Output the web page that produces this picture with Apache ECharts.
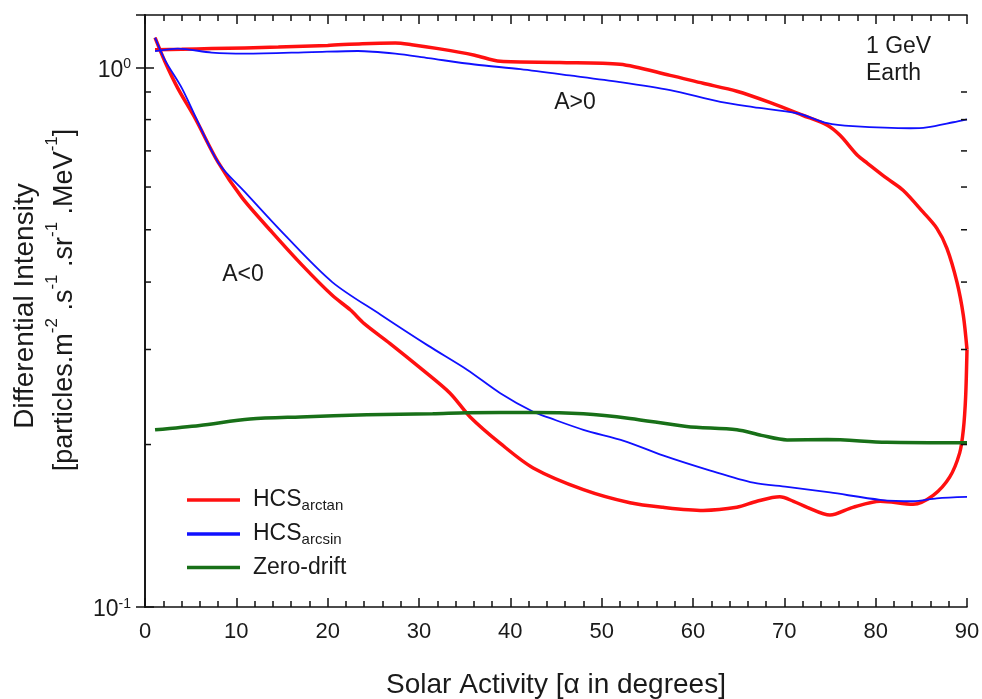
<!DOCTYPE html>
<html>
<head>
<meta charset="utf-8">
<script src="https://cdn.jsdelivr.net/npm/echarts@6/dist/echarts.min.js"></script>
<style>
html,body{margin:0;padding:0;background:#fff;}
#chart{width:982px;height:699px;}
</style>
</head>
<body>
<div id="chart"></div>
<script>
// ---- data (x = alpha in degrees, y = differential intensity) ----
var xTicks = [0, 10, 20, 30, 40, 50, 60, 70, 80, 90];
var yMinorTicks = [0.2, 0.3, 0.4, 0.5, 0.6, 0.7, 0.8, 0.9];

// HCS arctan, A<0 branch
var arctanNeg = [[1.1,1.135],[2.2,1.023],[3.6,0.914],[5.5,0.804],[8.0,0.667],[10.6,0.574],[13.9,0.495],[17.2,0.430],[20.5,0.378],[22.5,0.355],[24.0,0.335],[26.8,0.308],[30.4,0.275],[33.4,0.249],[35.6,0.225],[38.9,0.201],[42.5,0.181],[48.0,0.165],[53.1,0.156],[56.7,0.153],[61.1,0.151],[64.8,0.153],[67.0,0.157],[69.5,0.160],[71.0,0.157],[72.5,0.153],[75.0,0.148],[77.5,0.153],[80.5,0.157],[84.1,0.155],[86.3,0.161],[88.1,0.174],[89.2,0.193],[89.6,0.213],[89.85,0.245],[90.0,0.300]];
// HCS arctan, A>0 branch
var arctanPos = [[1.1,1.078],[4.0,1.080],[7.3,1.083],[14.6,1.090],[20.0,1.098],[23.8,1.106],[27.4,1.109],[29.2,1.101],[32.1,1.083],[36.1,1.053],[38.9,1.026],[45.4,1.021],[52.0,1.013],[57.5,0.966],[61.1,0.934],[64.8,0.903],[68.4,0.861],[72.0,0.815],[74.7,0.781],[76.1,0.748],[78.0,0.687],[79.1,0.664],[81.2,0.623],[83.0,0.592],[85.2,0.539],[86.7,0.503],[87.8,0.462],[88.9,0.400],[89.6,0.347],[90.0,0.300]];
// HCS arcsin, A<0 branch
var arcsinNeg = [[1.1,1.135],[2.2,1.030],[4.05,0.914],[8.0,0.667],[10.95,0.587],[15.3,0.489],[20.5,0.400],[25.8,0.348],[31.0,0.305],[35.3,0.275],[38.9,0.249],[42.5,0.230],[44.3,0.224],[48.0,0.213],[52.5,0.203],[56.7,0.191],[61.9,0.179],[66.6,0.170],[70.3,0.167],[75.0,0.163],[80.5,0.158],[84.1,0.157],[86.7,0.159],[90.0,0.160]];
// HCS arcsin, A>0 branch
var arcsinPos = [[1.1,1.071],[3.6,1.083],[7.3,1.065],[10.95,1.060],[18.3,1.067],[23.3,1.072],[27.4,1.060],[31.0,1.040],[36.1,1.012],[41.1,0.992],[46.5,0.966],[52.0,0.939],[57.5,0.907],[63.0,0.863],[66.6,0.844],[71.4,0.822],[74.7,0.788],[77.5,0.778],[83.8,0.771],[85.6,0.774],[88.5,0.791],[90.0,0.801]];
// Zero-drift
var zeroDrift = [[1.1,0.213],[6.0,0.217],[11.5,0.223],[17.0,0.225],[24.3,0.227],[31.5,0.228],[35.3,0.229],[42.5,0.2294],[48.0,0.228],[53.1,0.2236],[59.3,0.216],[64.8,0.213],[67.5,0.208],[70.3,0.204],[74.7,0.2043],[81.2,0.202],[90.0,0.2016]];

var legendNames = ['HCS_arctan', 'HCS_arcsin', 'Zero-drift'];

var FONT = 'Liberation Sans, Arial, sans-serif';
var TXT = '#1a1a1a';
var RED = '#ff1010', BLUE = '#1010ff', GREEN = '#187018';

var chart = echarts.init(document.getElementById('chart'), null, {renderer: 'canvas'});

var axisLineStyle = {color: '#111', width: 1.6};

function lineSeries(name, data, color, width) {
  return {
    name: name, type: 'line', data: data, showSymbol: false, symbol: 'none',
    smooth: 0.3, lineStyle: {color: color, width: width}, itemStyle: {color: color},
    z: 3
  };
}

var option = {
  backgroundColor: '#ffffff',
  animation: false,
  textStyle: {fontFamily: FONT, color: TXT},
  grid: {left: 145, right: 15, top: 15, bottom: 92, containLabel: false, outerBoundsMode: 'none'},
  xAxis: [{
    type: 'value', min: 0, max: 90, interval: 10,
    axisLine: {show: true, lineStyle: axisLineStyle},
    axisTick: {show: true, inside: true, length: 9, lineStyle: {color: '#111', width: 1.5}},
    minorTick: {show: true, splitNumber: 5, length: 6, lineStyle: {color: '#111', width: 1.5}},
    splitLine: {show: false},
    axisLabel: {fontSize: 22, color: TXT, fontFamily: FONT, margin: 14,
      formatter: function (v) { return xTicks.indexOf(v) >= 0 ? String(v) : ''; }},
    name: 'Solar Activity [\u03b1 in degrees]', nameLocation: 'middle', nameGap: 64,
    nameTextStyle: {fontSize: 28, color: TXT, fontFamily: FONT}
  }, {
    type: 'value', min: 0, max: 90, interval: 10, position: 'top',
    axisLine: {show: true, lineStyle: axisLineStyle},
    axisTick: {show: true, inside: true, length: 9, lineStyle: {color: '#111', width: 1.5}},
    minorTick: {show: true, splitNumber: 5, length: 6, lineStyle: {color: '#111', width: 1.5}},
    splitLine: {show: false}, axisLabel: {show: false}
  }],
  yAxis: [{
    type: 'log', logBase: 10, min: 0.1, max: 1.25,
    axisLine: {show: true, lineStyle: axisLineStyle},
    axisTick: {show: true, inside: true, length: 9, lineStyle: {color: '#111', width: 1.5}},
    splitLine: {show: false},
    axisLabel: {
      margin: 14, color: TXT, fontFamily: FONT, showMaxLabel: false, padding: [6, 0, 0, 0],
      formatter: function (v) {
        if (Math.abs(v - 1) < 1e-9) return '{b|10}{s|0}';
        if (Math.abs(v - 0.1) < 1e-9) return '{b|10}{s|-1}';
        return '';
      },
      rich: {
        b: {fontSize: 23, fontFamily: FONT, color: TXT, lineHeight: 26},
        s: {fontSize: 14, fontFamily: FONT, color: TXT, verticalAlign: 'top', lineHeight: 26, padding: [0, 0, 10, 0]}
      }
    }
  }, {
    type: 'log', logBase: 10, min: 0.1, max: 1.25, position: 'right',
    axisLine: {show: true, lineStyle: axisLineStyle},
    axisTick: {show: true, inside: true, length: 9, lineStyle: {color: '#111', width: 1.5}},
    splitLine: {show: false}, axisLabel: {show: false}
  }],
  legend: {
    data: legendNames,
    orient: 'vertical', left: 187, top: 488, padding: 0,
    itemWidth: 53, itemHeight: 3.5, itemGap: 9,
    icon: 'rect',
    selectedMode: false,
    formatter: function (name) {
      if (name === 'HCS_arctan') return '{m|HCS}{s|arctan}';
      if (name === 'HCS_arcsin') return '{m|HCS}{s|arcsin}';
      return '{m|' + name + '}';
    },
    textStyle: {
      fontFamily: FONT, color: TXT, padding: [0, 0, 0, 8],
      rich: {
        m: {fontSize: 23, fontFamily: FONT, color: TXT, lineHeight: 26},
        s: {fontSize: 15, fontFamily: FONT, color: TXT, lineHeight: 26, verticalAlign: 'bottom', padding: [10, 0, 0, 0]}
      }
    }
  },
  graphic: [
    {type: 'text', x: 575, y: 103, style: {text: 'A>0', font: '23px ' + FONT, fill: TXT, textAlign: 'center', textVerticalAlign: 'middle'}},
    {type: 'text', x: 243, y: 275, style: {text: 'A<0', font: '23px ' + FONT, fill: TXT, textAlign: 'center', textVerticalAlign: 'middle'}},
    {type: 'text', x: 866, y: 47, style: {text: '1 GeV', font: '23px ' + FONT, fill: TXT, textAlign: 'left', textVerticalAlign: 'middle'}},
    {type: 'text', x: 866, y: 74, style: {text: 'Earth', font: '23px ' + FONT, fill: TXT, textAlign: 'left', textVerticalAlign: 'middle'}},
    {type: 'text', x: 25, y: 306, rotation: Math.PI / 2,
      style: {text: 'Differential Intensity', font: '28px ' + FONT, fill: TXT, textAlign: 'center', textVerticalAlign: 'middle'}},
    {type: 'text', x: 61, y: 300, rotation: Math.PI / 2,
      style: {
        text: '{m|[particles.m}{s|-2}{m| .s}{s|-1}{m| .sr}{s|-1}{m| .MeV}{s|-1}{m|]}',
        textAlign: 'center', textVerticalAlign: 'middle', fill: TXT,
        rich: {
          m: {fontSize: 27, fontFamily: FONT, fill: TXT, color: TXT, lineHeight: 34, verticalAlign: 'bottom'},
          s: {fontSize: 17, fontFamily: FONT, fill: TXT, color: TXT, lineHeight: 34, verticalAlign: 'top'}
        }
      }}
  ],
  series: [
    lineSeries('HCS_arctan', arctanNeg, RED, 3.5),
    lineSeries('HCS_arctan', arctanPos, RED, 3.5),
    lineSeries('HCS_arcsin', arcsinNeg, BLUE, 1.8),
    lineSeries('HCS_arcsin', arcsinPos, BLUE, 1.8),
    lineSeries('Zero-drift', zeroDrift, GREEN, 3.5),
    {
      name: 'minorY', type: 'custom', silent: true, z: 5, clip: false,
      data: yMinorTicks.map(function (v) { return [0, v]; }),
      encode: {x: 0, y: 1},
      renderItem: function (params, api) {
        var v = api.value(1);
        var pL = api.coord([0, v]);
        var pR = api.coord([90, v]);
        var st = {stroke: '#111', lineWidth: 1.5};
        return {type: 'group', children: [
          {type: 'line', shape: {x1: pL[0], y1: pL[1], x2: pL[0] + 6, y2: pL[1]}, style: st},
          {type: 'line', shape: {x1: pR[0], y1: pR[1], x2: pR[0] - 6, y2: pR[1]}, style: st}
        ]};
      }
    }
  ]
};
chart.setOption(option);
</script>
</body>
</html>
